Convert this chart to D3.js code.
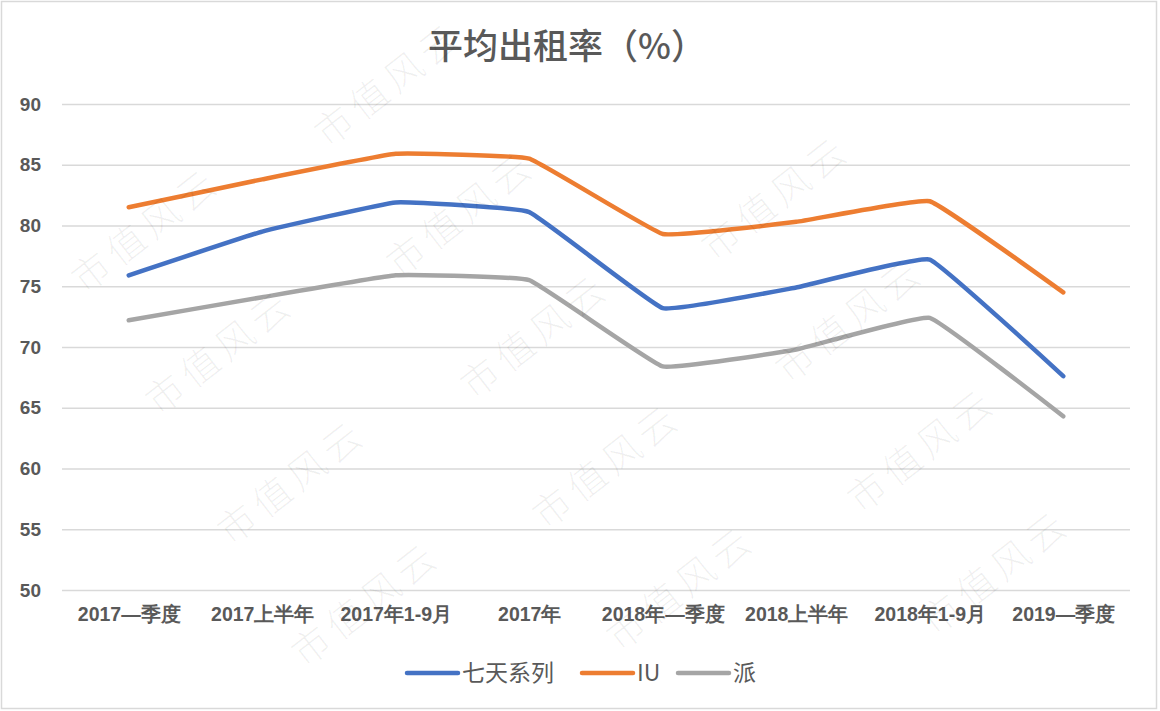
<!DOCTYPE html>
<html>
<head>
<meta charset="utf-8">
<script src="https://cdn.jsdelivr.net/npm/d3@7"></script>
<style>
  body { margin: 0; background: #fff; }
  svg { display: block; font-family: "Noto Sans CJK SC", "Noto Sans", sans-serif; }
</style>
</head>
<body>
<script>
// data
var categories = ["2017—季度", "2017上半年", "2017年1-9月", "2017年", "2018年—季度", "2018上半年", "2018年1-9月", "2019—季度"];
var qitian = [75.9, 79.5, 81.9, 81.1, 73.2, 74.9, 77.2, 67.6];
var iu     = [81.5, 83.8, 85.9, 85.5, 79.3, 80.3, 82.0, 74.5];
var pai    = [72.2, 74.1, 75.9, 75.5, 68.4, 69.8, 72.4, 64.3];
var seriesNames = ["七天系列", "IU", "派"];
var yTicks = [50, 55, 60, 65, 70, 75, 80, 85, 90];

var W = 1160, H = 711;
var colors = ["#4472C4", "#ED7D31", "#A5A5A5"];
var allSeries = [qitian, iu, pai];

var svg = d3.select("body").append("svg").attr("width", W).attr("height", H);

// chart frame
svg.append("rect")
    .attr("x", 1.5).attr("y", 1.5)
    .attr("width", W - 5).attr("height", H - 4)
    .attr("fill", "#fff").attr("stroke", "#d9d9d9").attr("stroke-width", 1.5);

var x = d3.scalePoint().domain(categories).range([62, 1130]).padding(0.5);
var y = d3.scaleLinear().domain([50, 90]).range([590, 104]);

// gridlines + y labels
var yAxis = svg.append("g")
    .attr("transform", "translate(62,0)")
    .call(d3.axisLeft(y).tickValues(yTicks).tickSize(-(1130 - 62)).tickPadding(21));
yAxis.select(".domain").remove();
yAxis.selectAll(".tick line").attr("stroke", "#d9d9d9").attr("stroke-width", 1.5);
yAxis.selectAll(".tick text")
    .attr("fill", "#595959").style("font-size", "19px").style("font-weight", "bold");

// category labels
var xAxis = svg.append("g")
    .attr("transform", "translate(0,590)")
    .call(d3.axisBottom(x).tickSize(0).tickPadding(17));
xAxis.select(".domain").remove();
xAxis.selectAll(".tick text")
    .attr("fill", "#595959").style("font-size", "19.5px").style("font-weight", "bold");

// lines, lightly smoothed like the spreadsheet
var line = d3.line()
    .x(function(d, i) { return x(categories[i]); })
    .y(function(d) { return y(d); })
    .curve(d3.curveCardinal.tension(0.75));

svg.selectAll(".series")
    .data(allSeries)
    .enter()
    .append("path")
    .attr("class", "series")
    .attr("d", line)
    .attr("fill", "none")
    .attr("stroke", function(d, i) { return colors[i]; })
    .attr("stroke-width", 4.5)
    .attr("stroke-linecap", "round")
    .attr("stroke-linejoin", "round");

// title
svg.append("text")
    .attr("x", 567).attr("y", 59)
    .attr("text-anchor", "middle")
    .attr("fill", "#595959")
    .style("font-size", "35px")
    .style("font-weight", "500")
    .text("平均出租率（%）");

// legend
var legendX = [407, 582, 678];
var lg = svg.selectAll(".lg")
    .data(seriesNames)
    .enter()
    .append("g")
    .attr("class", "lg")
    .attr("transform", function(d, i) { return "translate(" + legendX[i] + ",673)"; });
lg.append("line")
    .attr("x1", 0).attr("x2", 51).attr("y1", 0).attr("y2", 0)
    .attr("stroke", function(d, i) { return colors[i]; })
    .attr("stroke-width", 4.5).attr("stroke-linecap", "round");
lg.append("text")
    .attr("x", 55).attr("y", 0).attr("dy", "0.35em")
    .attr("fill", "#595959")
    .style("font-size", "23px")
    .text(function(d) { return d; });

// watermark (only the copies that sit fully inside the frame)
var marks = [];
for (var i = -2; i <= 4; i++) {
    for (var j = -2; j <= 3; j++) {
        var bx = 146 + 315 * i + 146 * j, by = 230 - 16 * i + 252 * j;
        marks.push([bx, by], [bx + 74, by + 122]);
    }
}
svg.append("g").style("pointer-events", "none")
    .selectAll("text")
    .data(marks.filter(function(m) { return m[0] > 75 && m[0] < W - 75 && m[1] > 80 && m[1] < H - 65; }))
    .enter()
    .append("text")
    .attr("transform", function(m) { return "translate(" + m[0] + "," + m[1] + ") rotate(-38)"; })
    .attr("text-anchor", "middle")
    .attr("dy", "0.35em")
    .attr("fill", "#000")
    .attr("fill-opacity", 0.06)
    .style("font-size", "38px")
    .style("letter-spacing", "6px")
    .style("font-weight", "300")
    .text("市值风云");
</script>
</body>
</html>
